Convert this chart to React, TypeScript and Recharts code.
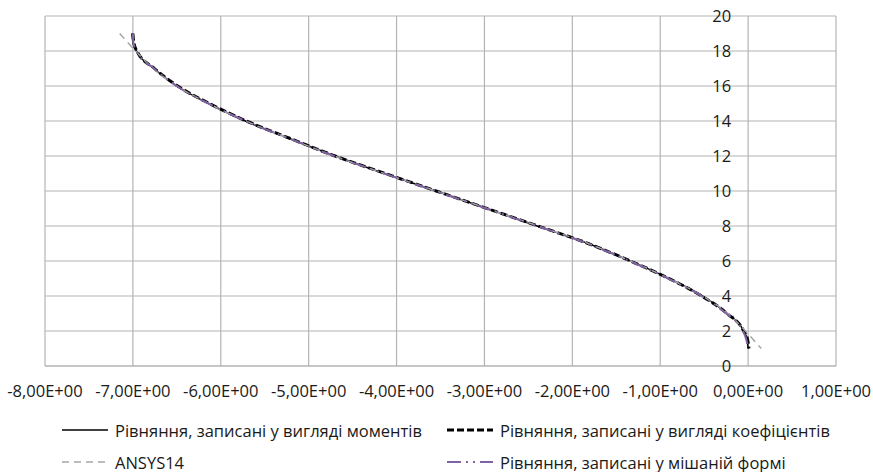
import React from "react";
import { LineChart, Line, XAxis, YAxis, CartesianGrid } from "recharts";

// y values shared by all series (depth), x values read per series
const yValues = [19, 18.5, 18, 17, 16, 15, 14, 13, 12, 11, 10, 9, 8, 7, 6, 5, 4, 3, 2, 1.5, 1];

const momentsX = [-7.01, -7.0, -6.96, -6.76, -6.5, -6.14, -5.72, -5.22, -4.7, -4.14, -3.55, -2.97, -2.4, -1.82, -1.34, -0.9, -0.52, -0.24, -0.05, -0.01, 0.0];
const coefficientsX = [-7.0, -6.99, -6.955, -6.755, -6.49, -6.13, -5.71, -5.21, -4.7, -4.13, -3.55, -2.97, -2.39, -1.82, -1.34, -0.9, -0.53, -0.24, -0.05, -0.005, 0.01];
const ansysX = [-7.15, -7.06, -6.97, -6.77, -6.5, -6.14, -5.72, -5.22, -4.71, -4.14, -3.55, -2.97, -2.39, -1.82, -1.34, -0.9, -0.52, -0.23, -0.03, 0.06, 0.15];
const mixedX = [-7.0, -6.995, -6.96, -6.76, -6.5, -6.14, -5.72, -5.22, -4.71, -4.14, -3.56, -2.98, -2.4, -1.83, -1.35, -0.91, -0.53, -0.25, -0.06, -0.02, 0.0];

const xTicks = [-8, -7, -6, -5, -4, -3, -2, -1, 0, 1];
const yTicks = [0, 2, 4, 6, 8, 10, 12, 14, 16, 18, 20];

const seriesNames = [
  "Рівняння, записані у вигляді моментів",
  "Рівняння, записані у вигляді коефіцієнтів",
  "ANSYS14",
  "Рівняння, записані у мішаній формі",
];

const toPoints = (xs: number[]) => xs.map((x, i) => ({ x, y: yValues[i] }));

const W = 873;
const H = 472;
const margin = { top: 16, right: 37, left: 44, bottom: 0 };
const Y_AXIS_W = 1;
const X_MIN = -8;
const X_MAX = 1;
const FONT = "'Open Sans', sans-serif";
const FONT_SIZE = 16.5;
const TEXT = "#1a1a1a";
const GRID = "#b4b4b4";

const fmtX = (v: number) =>
  (v < 0 ? "-" : "") + Math.abs(v).toFixed(2).replace(".", ",") + "E+00";

// y labels sit just left of x = 0 (where the axes cross)
const plotLeft = margin.left + Y_AXIS_W;
const plotW = W - plotLeft - margin.right;
const zeroX = plotLeft + (plotW * (0 - X_MIN)) / (X_MAX - X_MIN);

const renderYTick = (props: any) => {
  const { y, payload, index } = props;
  return (
    <text
      key={`yt-${index}`}
      x={zeroX - 17}
      y={y}
      dy="0.355em"
      textAnchor="end"
      fontFamily={FONT}
      fontSize={FONT_SIZE}
      fill={TEXT}
    >
      {payload.value}
    </text>
  );
};

const legendItems = [
  { name: seriesNames[0], stroke: "#000000", width: 1.5, dash: undefined, left: 62, top: 430 },
  { name: seriesNames[1], stroke: "#000000", width: 3, dash: "7 3", left: 447, top: 430 },
  { name: seriesNames[2], stroke: "#a6a6a6", width: 1.5, dash: "7 5", left: 62, top: 462 },
  { name: seriesNames[3], stroke: "#8064a2", width: 2, dash: "14 5 2 5 2 5", left: 447, top: 462 },
];

const Legend2 = () => (
  <>
    {legendItems.map((it, i) => (
      <div
        key={i}
        style={{
          position: "absolute",
          left: it.left,
          top: it.top - 12,
          height: 24,
          display: "flex",
          alignItems: "center",
          fontFamily: FONT,
          fontSize: FONT_SIZE,
          color: TEXT,
          whiteSpace: "nowrap",
        }}
      >
        <svg width={46} height={10} style={{ marginRight: 7 }}>
          <line x1={0} y1={5} x2={46} y2={5} stroke={it.stroke} strokeWidth={it.width} strokeDasharray={it.dash} />
        </svg>
        <span>{it.name}</span>
      </div>
    ))}
  </>
);

export default function App() {
  return (
    <div style={{ position: "absolute", left: 0, top: 0, width: W, height: H, background: "#fff" }}>
      <LineChart width={W} height={H} margin={margin}>
        <CartesianGrid stroke={GRID} strokeWidth={1.2} />
        <XAxis
          dataKey="x"
          type="number"
          domain={[X_MIN, X_MAX]}
          ticks={xTicks}
          interval={0}
          tickFormatter={fmtX}
          height={106}
          axisLine={{ stroke: GRID, strokeWidth: 1.2 }}
          tickLine={false}
          tickSize={0}
          tickMargin={19}
          tick={{ fontFamily: FONT, fontSize: FONT_SIZE, fill: TEXT }}
        />
        <YAxis
          dataKey="y"
          type="number"
          domain={[0, 20]}
          ticks={yTicks}
          interval={0}
          width={Y_AXIS_W}
          axisLine={false}
          tickLine={false}
          tick={renderYTick}
        />
        <Line data={toPoints(momentsX)} dataKey="y" name={seriesNames[0]} type="monotone" stroke="#000000" strokeWidth={1.5} dot={false} isAnimationActive={false} />
        <Line data={toPoints(coefficientsX)} dataKey="y" name={seriesNames[1]} type="monotone" stroke="#000000" strokeWidth={3} strokeDasharray="7 3" dot={false} isAnimationActive={false} />
        <Line data={toPoints(ansysX)} dataKey="y" name={seriesNames[2]} type="monotone" stroke="#a6a6a6" strokeWidth={1.5} strokeDasharray="7 5" dot={false} isAnimationActive={false} />
        <Line data={toPoints(mixedX)} dataKey="y" name={seriesNames[3]} type="monotone" stroke="#8064a2" strokeWidth={2} strokeDasharray="14 5 2 5 2 5" dot={false} isAnimationActive={false} />
      </LineChart>
      <Legend2 />
    </div>
  );
}
